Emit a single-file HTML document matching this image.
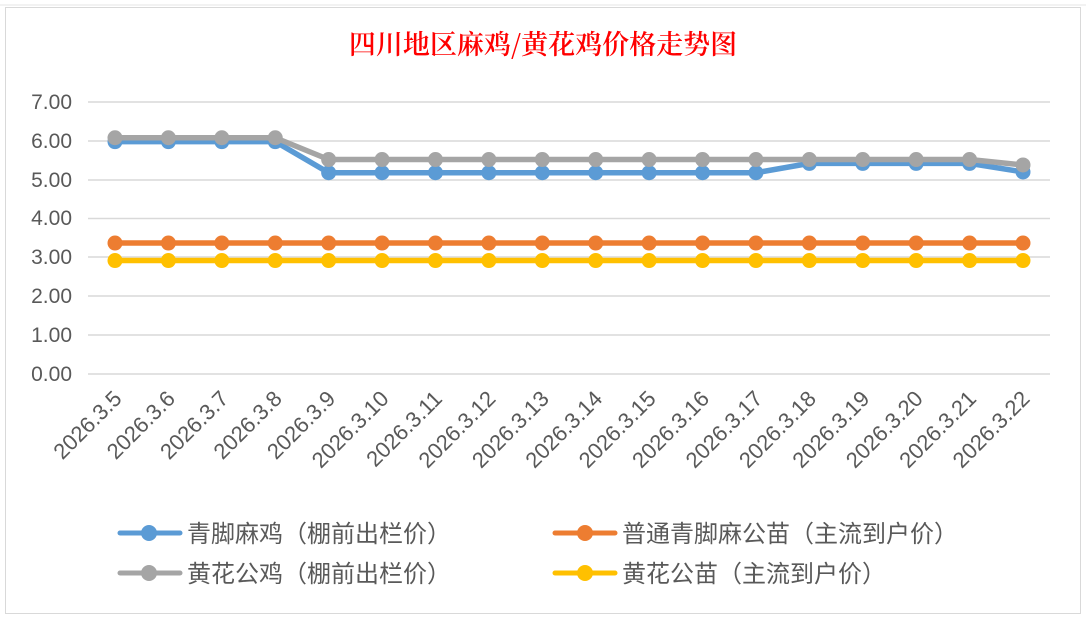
<!DOCTYPE html>
<html><head><meta charset="utf-8"><style>
body{margin:0;background:#fff;}
svg{display:block;font-family:"Liberation Sans","Noto Sans CJK SC",sans-serif;}
</style></head><body>
<svg width="1086" height="619" xmlns="http://www.w3.org/2000/svg">
<rect x="0" y="0" width="1086" height="619" fill="#fff"/>
<line x1="0" y1="5" x2="1086" y2="5" stroke="#e6e6e6"/>
<rect x="5.5" y="7.5" width="1075" height="606" fill="#fff" stroke="#d9d9d9"/>
<text x="543" y="54" text-anchor="middle" font-size="27" font-weight="600" fill="#ff0000" font-family="'Noto Serif CJK SC','Liberation Serif',serif">四川地区麻鸡/黄花鸡价格走势图</text>
<g stroke="#d9d9d9" stroke-width="1.5">
<line x1="88" y1="102" x2="1050" y2="102"/>
<line x1="88" y1="141" x2="1050" y2="141"/>
<line x1="88" y1="180" x2="1050" y2="180"/>
<line x1="88" y1="218.5" x2="1050" y2="218.5"/>
<line x1="88" y1="257" x2="1050" y2="257"/>
<line x1="88" y1="296" x2="1050" y2="296"/>
<line x1="88" y1="335" x2="1050" y2="335"/>
<line x1="88" y1="374" x2="1050" y2="374"/>
</g>
<g font-size="21" fill="#595959" text-anchor="end">
<text x="72" y="109">7.00</text><text x="72" y="148">6.00</text><text x="72" y="187">5.00</text>
<text x="72" y="225">4.00</text><text x="72" y="264">3.00</text><text x="72" y="303">2.00</text>
<text x="72" y="342">1.00</text><text x="72" y="381">0.00</text>
</g>
<g id="labels" font-size="22" fill="#595959" text-anchor="end"></g>
<g id="series"></g>
<g font-size="24" fill="#595959" font-family="'Noto Sans CJK SC','Liberation Sans',sans-serif">
<line x1="120" y1="533" x2="180" y2="533" stroke="#5b9bd5" stroke-width="5" stroke-linecap="round"/><circle cx="149" cy="533" r="8" fill="#5b9bd5"/>
<text x="187" y="542">青脚麻鸡（棚前出栏价）</text>
<line x1="120" y1="573" x2="180" y2="573" stroke="#a5a5a5" stroke-width="5" stroke-linecap="round"/><circle cx="149" cy="573" r="8" fill="#a5a5a5"/>
<text x="187" y="582">黄花公鸡（棚前出栏价）</text>
<line x1="555" y1="533" x2="615" y2="533" stroke="#ed7d31" stroke-width="5" stroke-linecap="round"/><circle cx="585" cy="533" r="8" fill="#ed7d31"/>
<text x="622" y="542">普通青脚麻公苗（主流到户价）</text>
<line x1="555" y1="573" x2="615" y2="573" stroke="#ffc000" stroke-width="5" stroke-linecap="round"/><circle cx="585" cy="573" r="8" fill="#ffc000"/>
<text x="622" y="582">黄花公苗（主流到户价）</text>
</g>
</svg>
<script>
var ns="http://www.w3.org/2000/svg";
function X(i){return 115+i*(1023-115)/17;}
function Y(v){return 374-v*38.857;}
var lg=document.getElementById("labels");
for(var i=0;i<18;i++){var t=document.createElementNS(ns,"text");var x=X(i)+8,y=400;
t.setAttribute("x",x);t.setAttribute("y",y);t.setAttribute("transform","rotate(-45 "+x+" "+y+")");
t.textContent="2026.3."+(5+i);lg.appendChild(t);}
var blue=[],gray=[],org=[],yel=[];
for(var i=0;i<18;i++){blue.push(i<4?5.98:(i<13?5.18:5.42));gray.push(i<4?6.08:5.52);org.push(3.37);yel.push(2.92);}
blue[17]=5.2;gray[17]=5.38;
var sg=document.getElementById("series");
[[yel,"#ffc000"],[org,"#ed7d31"],[blue,"#5b9bd5"],[gray,"#a5a5a5"]].forEach(function(s){
var p=s[0].map(function(v,i){return X(i)+","+Y(v);}).join(" ");
var pl=document.createElementNS(ns,"polyline");pl.setAttribute("points",p);pl.setAttribute("fill","none");
pl.setAttribute("stroke",s[1]);pl.setAttribute("stroke-width","5.5");pl.setAttribute("stroke-linejoin","round");sg.appendChild(pl);
s[0].forEach(function(v,i){var c=document.createElementNS(ns,"circle");c.setAttribute("cx",X(i));c.setAttribute("cy",Y(v));c.setAttribute("r","7.5");c.setAttribute("fill",s[1]);sg.appendChild(c);});
});
</script>
</body></html>
